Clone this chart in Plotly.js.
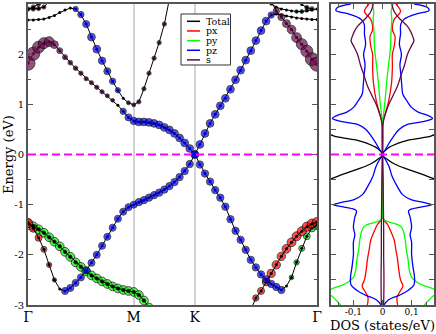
<!DOCTYPE html>
<html>
<head>
<meta charset="utf-8">
<script src="https://cdn.plot.ly/plotly-3.0.1.min.js"></script>
<style>
  html, body { margin: 0; padding: 0; background: #fff; }
  #chart { width: 436px; height: 334px; }
</style>
</head>
<body>
<div id="chart"></div>
<script>
// k-path Γ-M-K-Γ (same grid for every band)
const kPath = [
  0, 0.05, 0.1, 0.15, 0.2, 0.25, 0.3, 0.35, 0.4, 0.45, 0.5, 0.55, 0.6, 0.65, 0.7, 0.75, 0.8, 0.85, 0.9, 0.95, 1.0,
  1.048, 1.096, 1.144, 1.192, 1.240, 1.289, 1.337, 1.385, 1.433, 1.481, 1.529, 1.577,
  1.625, 1.673, 1.721, 1.770, 1.818, 1.866, 1.914, 1.962, 2.010, 2.058, 2.106, 2.154,
  2.203, 2.251, 2.299, 2.347, 2.395, 2.443, 2.491, 2.539, 2.588, 2.636, 2.684, 2.732
];
const kTickVals = [0, 1, 1.577, 2.732];
const kTickText = ['Γ', 'M', 'K', 'Γ'];
const eTickVals = [-3, -2, -1, 0, 1, 2, 3];
const eTickText = ['-3', '-2', '-1', '0', '1', '2', '3'];
const dosTickVals = [-0.1, 0, 0.1];
const dosTickText = ['-0,1', '0', '0,1'];
const fermi = 0;

// band energies (eV), null = outside the window
const b1E = [-1.37,-1.47,-1.66,-1.89,-2.2,-2.5,-2.68,-2.72,-2.66,-2.56,-2.45,-2.31,-2.16,-2.0,-1.82,-1.64,-1.46,-1.28,-1.14,-1.05,-1.0,
  -0.95,-0.91,-0.86,-0.81,-0.76,-0.7,-0.63,-0.55,-0.45,-0.33,-0.19,0.0,
  -0.2,-0.38,-0.54,-0.71,-0.86,-1.04,-1.29,-1.52,-1.7,-1.9,-2.1,-2.25,-2.39,-2.49,-2.58,-2.64,-2.7,-2.62,-2.45,-2.15,-1.87,-1.63,-1.47,-1.4];
const b2E = [-1.37,-1.43,-1.49,-1.56,-1.65,-1.74,-1.83,-1.94,-2.04,-2.15,-2.24,-2.33,-2.41,-2.47,-2.53,-2.58,-2.63,-2.67,-2.7,-2.72,-2.74,
  -2.8,-2.91,-3.05,null,null,null,null,null,null,null,null,null,
  null,null,null,null,null,null,null,null,null,null,-3.1,-2.86,-2.72,-2.54,-2.37,-2.2,-2.03,-1.88,-1.75,-1.63,-1.53,-1.44,-1.38,-1.35];
const b3E = [1.82,2.01,2.14,2.22,2.25,2.19,2.07,1.94,1.83,1.72,1.62,1.51,1.43,1.34,1.25,1.17,1.08,0.98,0.86,0.74,0.67,
  0.65,0.65,0.64,0.62,0.59,0.54,0.49,0.42,0.33,0.23,0.12,0.0,
  0.2,0.42,0.62,0.8,0.97,1.12,1.3,1.49,1.68,1.88,2.07,2.27,2.47,2.66,2.78,2.8,2.78,2.76,2.74,2.72,2.71,2.7,2.69,2.69];
const b4E = [2.68,2.68,2.69,2.7,2.73,2.77,2.83,2.88,2.92,2.9,2.79,2.6,2.34,2.1,1.87,1.66,1.46,1.28,1.12,1.03,0.99,
  1.05,1.31,1.62,1.92,2.23,2.6,3.1,null,null,null,null,null,
  null,null,null,null,null,null,null,null,null,null,null,null,null,null,3.05,2.86,2.74,2.61,2.49,2.33,2.2,2.06,1.9,1.8];
const b5E = [2.9,2.9,2.91,2.94,3.05,null,null,null,null,null,null,null,null,null,null,null,null,null,null,null,null,
  null,null,null,null,null,null,null,null,null,null,null,null,
  null,null,null,null,null,null,null,null,null,null,null,null,null,null,3.0,2.94,2.9,2.88,2.86,2.85,2.85,2.87,2.89,2.9];
const b6E = [2.9,2.94,3.0,3.08,null,null,null,null,null,null,null,null,null,null,null,null,null,null,null,null,null,
  null,null,null,null,null,null,null,null,null,null,null,null,
  null,null,null,null,null,null,null,null,null,null,null,null,null,null,null,null,null,null,null,3.1,2.99,2.93,2.9];

// orbital weights (fat-band projections)
const b1px = [0.67,0.57,0.5,0.43,0.37,0.3,0,0,0,0,0,0,0,0,0,0,0,0,0,0,0,
  0,0,0,0,0,0,0,0,0,0,0,0,
  0,0,0,0,0,0,0,0,0,0,0,0,0,0,0,0,0,0,0,0,0,0,0,0];
const b1py = [0,0,0,0,0,0,0,0,0,0,0,0,0,0,0,0,0,0,0,0,0,
  0,0,0,0,0,0,0,0,0,0,0,0,
  0,0,0,0,0,0,0,0,0,0,0,0,0,0,0,0,0,0,0.33,0.38,0.43,0.48,0.52,0.55];
const b1pz = [0,0,0,0,0,0,0,0.5,0.5,0.5,0.5,0.5,0.5,0.5,0.5,0.5,0.5,0.5,0.5,0.5,0.5,
  0.52,0.52,0.52,0.52,0.52,0.52,0.52,0.52,0.52,0.52,0.52,0.52,
  0.52,0.52,0.52,0.52,0.52,0.52,0.52,0.52,0.52,0.52,0.52,0.52,0.52,0.52,0.52,0.52,0.52,0,0,0,0,0,0,0];
const b2px = [0.25,0.25,0.25,0.25,0.25,0.25,0.25,0.25,0.25,0.25,0.25,0.25,0.25,0.25,0.25,0.25,0.25,0.25,0.25,0.25,0.25,
  0.25,0.25,0.25,0,0,0,0,0,0,0,0,0,
  0,0,0,0,0,0,0,0,0,0,0.4,0.45,0.5,0.55,0.58,0.6,0.6,0.62,0.63,0.64,0.65,0.66,0.67,0.68];
const b2py = [0.62,0.62,0.62,0.62,0.62,0.62,0.62,0.62,0.62,0.62,0.62,0.62,0.62,0.62,0.62,0.62,0.62,0.62,0.62,0.62,0.62,
  0.62,0.62,0.62,0,0,0,0,0,0,0,0,0,
  0,0,0,0,0,0,0,0,0,0,0,0,0,0,0,0,0,0,0,0,0,0,0,0];
const b3s = [1.0,0.93,0.85,0.78,0.7,0.55,0.42,0.36,0.33,0.32,0.31,0.3,0.3,0.3,0.3,0.28,0.26,0,0,0,0,
  0,0,0,0,0,0,0,0,0,0,0,0,
  0,0,0,0,0,0,0,0,0,0,0,0,0,0,0,0,0,0,0,0,0,0,0,0];
const b3pz = [0,0,0,0,0,0,0,0,0,0,0,0,0,0,0,0,0,0,0.45,0.5,0.52,
  0.55,0.55,0.55,0.55,0.55,0.55,0.55,0.55,0.55,0.55,0.55,0.55,
  0.55,0.55,0.55,0.55,0.55,0.55,0.55,0.55,0.55,0.55,0.55,0.55,0.55,0.55,0.45,0,0,0,0,0,0,0,0,0];
const b4pz = [0,0,0,0,0,0,0,0,0,0.38,0.45,0.5,0.55,0.55,0.52,0.5,0.45,0.38,0,0,0,
  0,0,0,0,0,0,0,0,0,0,0,0,
  0,0,0,0,0,0,0,0,0,0,0,0,0,0,0,0,0,0,0,0,0,0,0,0];
const b4s = [0,0,0,0,0,0,0,0,0,0,0,0,0,0,0,0,0,0,0,0.28,0.28,
  0.3,0.3,0.3,0.3,0.3,0.3,0.3,0,0,0,0,0,
  0,0,0,0,0,0,0,0,0,0,0,0,0,0,0.4,0.45,0.5,0.56,0.62,0.7,0.78,0.85,0.93,1.0];
const b5px = [0.3,0.3,0.3,0.3,0,0,0,0,0,0,0,0,0,0,0,0,0,0,0,0,0,
  0,0,0,0,0,0,0,0,0,0,0,0,
  0,0,0,0,0,0,0,0,0,0,0,0,0,0,0,0,0,0,0,0,0,0,0,0];
const b5py = [0,0,0,0,0,0,0,0,0,0,0,0,0,0,0,0,0,0,0,0,0,
  0,0,0,0,0,0,0,0,0,0,0,0,
  0,0,0,0,0,0,0,0,0,0,0,0,0,0,0,0,0,0,0,0.25,0.28,0.25,0,0];
const b6px = [0,0,0,0,0,0,0,0,0,0,0,0,0,0,0,0,0,0,0,0,0,
  0,0,0,0,0,0,0,0,0,0,0,0,
  0,0,0,0,0,0,0,0,0,0,0,0,0,0,0,0,0,0,0,0,0,0.3,0.33,0.35];
const b6py = [0,0.3,0.3,0,0,0,0,0,0,0,0,0,0,0,0,0,0,0,0,0,0,
  0,0,0,0,0,0,0,0,0,0,0,0,
  0,0,0,0,0,0,0,0,0,0,0,0,0,0,0,0,0,0,0,0,0,0,0,0];

// DOS (states/eV), drawn mirrored about 0
const dosTotE = [0.6, 0.45, 0.39, 0.35, 0.29, 0.22, 0.12, 0, -0.1, -0.2, -0.3, -0.4, -0.48, -0.6];
const dosTot  = [0.3, 0.22, 0.178, 0.155, 0.092, 0.052, 0.017, 0, 0.017, 0.045, 0.09, 0.14, 0.175, 0.25];
const dosPxE = [3.0, 2.85, 2.69, 2.49, 2.35, 2.15, 2.0, 1.75, 1.42, 1.09, 0.82, 0.65, 0, -1.2, -1.3, -1.4, -1.5, -1.7, -1.9, -2.1, -2.3, -2.5, -2.62, -2.73, -2.85, -3.0];
const dosPx  = [0.046, 0.062, 0.04, 0.034, 0.043, 0.04, 0.034, 0.034, 0.031, 0.022, 0.01, 0.002, 0, 0, 0.004, 0.018, 0.026, 0.04, 0.046, 0.052, 0.056, 0.062, 0.07, 0.06, 0.05, 0.052];
const dosPyE = [3.0, 2.85, 2.7, 2.4, 2.1, 1.75, 1.42, 1.09, 0.82, 0.62, 0, -1.2, -1.3, -1.36, -1.42, -1.5, -1.7, -1.9, -2.1, -2.3, -2.45, -2.55, -2.62, -2.68, -2.75, -2.83, -2.9, -3.0];
const dosPy  = [0.036, 0.03, 0.032, 0.029, 0.027, 0.02, 0.014, 0.009, 0.004, 0, 0, 0, 0.005, 0.03, 0.06, 0.07, 0.078, 0.082, 0.088, 0.092, 0.1, 0.12, 0.145, 0.175, 0.19, 0.172, 0.16, 0.144];
const dosPzE = [3.0, 2.93, 2.87, 2.8, 2.7, 2.6, 2.4, 2.2, 2.0, 1.8, 1.6, 1.4, 1.2, 1.05, 0.95, 0.85, 0.78, 0.72, 0.66, 0.6,
  0.5, 0.4, 0.3, 0.2, 0.1, 0, -0.1, -0.25, -0.45, -0.65, -0.8, -0.9, -0.96, -1.0, -1.05, -1.12, -1.25, -1.45, -1.6, -1.75,
  -2.0, -2.25, -2.45, -2.6, -2.7, -2.8, -2.9, -3.0];
const dosPz  = [0.109, 0.155, 0.16, 0.115, 0.075, 0.063, 0.062, 0.058, 0.065, 0.06, 0.063, 0.066, 0.07, 0.086, 0.098, 0.121, 0.155, 0.172, 0.144, 0.086,
  0.057, 0.043, 0.031, 0.02, 0.01, 0, 0.01, 0.023, 0.034, 0.052, 0.069, 0.098, 0.144, 0.169, 0.132, 0.09, 0.095, 0.1, 0.095, 0.1,
  0.1, 0.105, 0.11, 0.108, 0.09, 0.06, 0.02, 0.005];
const dosSE = [3.0, 2.85, 2.7, 2.57, 2.45, 2.35, 2.27, 2.17, 2.0, 1.77, 1.57, 1.37, 1.17, 1.03, 0.83, 0.63, 0.3, 0, -0.5, -1.0, -1.5, -2.0, -2.5, -3.0];
const dosS  = [0.032, 0.04, 0.06, 0.084, 0.097, 0.104, 0.108, 0.1, 0.086, 0.075, 0.063, 0.052, 0.036, 0.024, 0.011, 0.002, 0.001, 0, 0.002, 0.003, 0.004, 0.004, 0.005, 0.004];

const legendNames = ['Total', 'px', 'py', 'pz', 's'];

// ---- styling ----
const serif = 'DejaVu Serif';
const colors = { Total: '#000000', px: '#ff0000', py: '#00ff00', pz: '#0000ff', s: '#670748' };
const sizeScale = 14;
const W = 436, H = 334;
const px2x = p => p / W;
const px2y = p => 1 - p / H;

const bands = [b1E, b2E, b3E, b4E, b5E, b6E];
const projections = {
  py: [[b1E, b1py], [b2E, b2py], [b5E, b5py], [b6E, b6py]],
  px: [[b1E, b1px], [b2E, b2px], [b5E, b5px], [b6E, b6px]],
  pz: [[b1E, b1pz], [b3E, b3pz], [b4E, b4pz]],
  s:  [[b3E, b3s], [b4E, b4s]]
};

function fatTrace(orb) {
  const x = [], y = [], size = [];
  projections[orb].forEach(([E, w]) => {
    E.forEach((e, i) => {
      if (e === null || !w[i]) return;
      x.push(kPath[i]); y.push(e); size.push(sizeScale * w[i]);
    });
  });
  return {
    x, y, type: 'scatter', mode: 'markers', showlegend: false, hoverinfo: 'skip',
    marker: { color: colors[orb], size, line: { color: '#000', width: 1 } },
    xaxis: 'x', yaxis: 'y'
  };
}

const traces = [];
traces.push(fatTrace('py'));
traces.push(fatTrace('px'));
bands.forEach(E => traces.push({
  x: kPath, y: E, type: 'scatter', mode: 'lines+markers', showlegend: false, hoverinfo: 'skip',
  line: { color: '#000', width: 1 }, marker: { color: '#000', size: 3 },
  xaxis: 'x', yaxis: 'y'
}));
traces.push(fatTrace('pz'));
traces.push(fatTrace('s'));

// DOS panel
const dosSets = [['Total', dosTotE, dosTot], ['px', dosPxE, dosPx], ['py', dosPyE, dosPy], ['pz', dosPzE, dosPz], ['s', dosSE, dosS]];
dosSets.forEach(([name, E, D]) => {
  [1, -1].forEach(sign => traces.push({
    x: D.map(d => sign * d), y: E, type: 'scatter', mode: 'lines', showlegend: false, hoverinfo: 'skip',
    line: { color: colors[name], width: 1.3, shape: 'spline', smoothing: 1 },
    xaxis: 'x2', yaxis: 'y2'
  }));
});

// legend drawn by hand (grace-style compact legend)
const legTop = 21.3, legStep = 9.65;
const shapes = [
  { type: 'line', xref: 'x domain', yref: 'y', x0: 0, x1: 1, y0: fermi, y1: fermi,
    line: { color: '#ff00ff', width: 2, dash: '8px,4px' } },
  { type: 'line', xref: 'x2 domain', yref: 'y2', x0: 0, x1: 1, y0: fermi, y1: fermi,
    line: { color: '#ff00ff', width: 2, dash: '8px,4px' } },
  { type: 'rect', xref: 'paper', yref: 'paper', x0: px2x(181), x1: px2x(230.5), y0: px2y(65), y1: px2y(14),
    line: { color: '#333', width: 1 }, fillcolor: '#fff' }
];
const annotations = [];
legendNames.forEach((name, i) => {
  const yc = legTop + i * legStep;
  shapes.push({ type: 'line', xref: 'paper', yref: 'paper', x0: px2x(187), x1: px2x(200), y0: px2y(yc), y1: px2y(yc),
    line: { color: colors[name], width: 1.5 } });
  annotations.push({ xref: 'paper', yref: 'paper', x: px2x(205), y: px2y(yc), xanchor: 'left', yanchor: 'middle',
    text: name, showarrow: false, borderpad: 0, font: { family: serif, size: 9.5, color: '#000' } });
});
// axis titles placed like the original
annotations.push({ xref: 'paper', yref: 'paper', x: px2x(382), y: px2y(334), xanchor: 'center', yanchor: 'bottom',
  text: 'DOS (states/eV)', showarrow: false, borderpad: 0, font: { family: serif, size: 13, color: '#000' } });
annotations.push({ xref: 'paper', yref: 'paper', x: px2x(9), y: px2y(155), xanchor: 'center', yanchor: 'middle',
  text: 'Energy (eV)', textangle: -90, showarrow: false, font: { family: serif, size: 13, color: '#000' } });

const frame = { showline: true, linecolor: '#555', linewidth: 2, mirror: true, zeroline: false };

const layout = {
  width: W, height: H,
  margin: { l: 0, r: 0, t: 0, b: 0, pad: 0 },
  paper_bgcolor: '#fff', plot_bgcolor: '#fff',
  showlegend: false,
  font: { family: serif, color: '#000' },
  xaxis: Object.assign({}, frame, {
    domain: [px2x(28), px2x(317)], range: [0, 2.732],
    tickmode: 'array', tickvals: kTickVals, ticktext: kTickText, ticks: '',
    ticklabelstandoff: -2,
    showgrid: true, gridcolor: '#d3d3d3', gridwidth: 2,
    tickfont: { family: serif, size: 14 }
  }),
  yaxis: Object.assign({}, frame, {
    domain: [1 - 305 / H, 1 - 4 / H], range: [-3, 3],
    tickmode: 'array', tickvals: eTickVals, ticktext: eTickText,
    ticks: 'inside', ticklen: 5, tickcolor: '#555', mirror: 'ticks',
    minor: { ticks: 'inside', ticklen: 3, dtick: 0.5, tick0: 0, tickcolor: '#555' },
    showgrid: false, tickfont: { family: serif, size: 10 }
  }),
  xaxis2: Object.assign({}, frame, {
    domain: [px2x(331), px2x(434)], range: [-0.177, 0.177], anchor: 'y2',
    tickmode: 'array', tickvals: dosTickVals, ticktext: dosTickText,
    ticks: 'inside', ticklen: 5, tickcolor: '#555', mirror: 'ticks',
    ticklabelstandoff: -3,
    minor: { ticks: 'inside', ticklen: 3, dtick: 0.05, tick0: 0, tickcolor: '#555' },
    showgrid: false, tickfont: { family: serif, size: 9 }
  }),
  yaxis2: Object.assign({}, frame, {
    domain: [1 - 305 / H, 1 - 4 / H], range: [-3, 3], anchor: 'x2',
    tickmode: 'linear', dtick: 0.5, tick0: 0, ticks: 'inside', ticklen: 5, tickcolor: '#555', mirror: 'ticks',
    showticklabels: false, showgrid: false
  }),
  shapes, annotations
};

Plotly.newPlot('chart', traces, layout, { displayModeBar: false, staticPlot: true });
</script>
</body>
</html>
